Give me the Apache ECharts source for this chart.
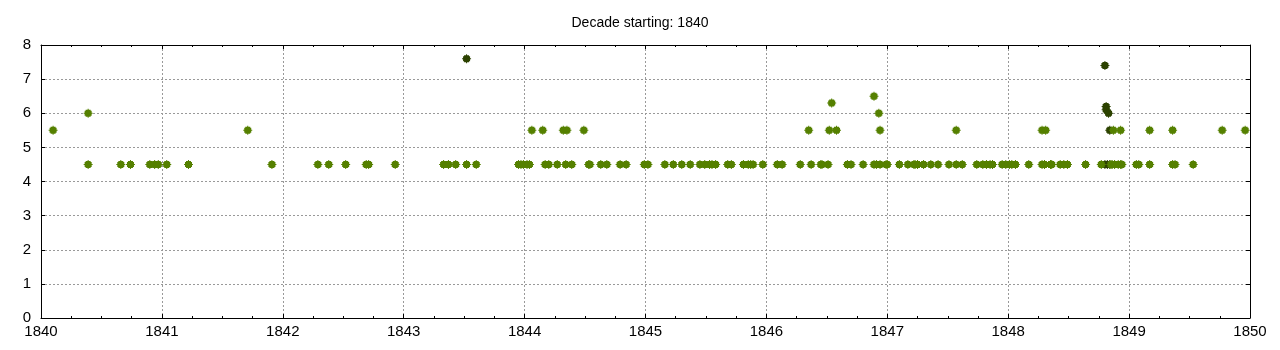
<!DOCTYPE html>
<html>
<head>
<meta charset="utf-8">
<script src="https://cdn.jsdelivr.net/npm/echarts@6/dist/echarts.min.js"></script>
<style>
html,body{margin:0;padding:0;background:#fff;}
#c{width:1280px;height:350px;}
</style>
</head>
<body>
<div id="c"></div>
<script>
const titleText = "Decade starting: 1840";
const xTicks = [1840, 1841, 1842, 1843, 1844, 1845, 1846, 1847, 1848, 1849, 1850];
const yTicks = [0, 1, 2, 3, 4, 5, 6, 7, 8];

// Green events at magnitude 4.5
const yearsMag45 = [
  1840.39, 1840.66, 1840.74, 1840.90, 1840.94, 1840.97, 1841.04, 1841.22, 1841.91,
  1842.29, 1842.38, 1842.52, 1842.69, 1842.71, 1842.93,
  1843.33, 1843.37, 1843.43, 1843.52, 1843.60, 1843.95, 1843.97, 1843.99,
  1844.02, 1844.04, 1844.17, 1844.20, 1844.27, 1844.34, 1844.39, 1844.53, 1844.54,
  1844.63, 1844.68, 1844.79, 1844.84, 1844.99,
  1845.02, 1845.16, 1845.23, 1845.30, 1845.37, 1845.45, 1845.49, 1845.53, 1845.55,
  1845.58, 1845.68, 1845.71, 1845.81, 1845.85, 1845.87, 1845.89, 1845.97,
  1846.09, 1846.13, 1846.28, 1846.37, 1846.45, 1846.46, 1846.51, 1846.67, 1846.70,
  1846.80, 1846.89, 1846.91, 1846.94, 1846.99,
  1847.00, 1847.10, 1847.17, 1847.22, 1847.23, 1847.25, 1847.30, 1847.36, 1847.42,
  1847.51, 1847.57, 1847.62, 1847.74, 1847.79, 1847.82, 1847.85, 1847.87, 1847.95, 1847.98,
  1848.01, 1848.03, 1848.06, 1848.17, 1848.28, 1848.30, 1848.35, 1848.36, 1848.43,
  1848.46, 1848.49, 1848.64, 1848.77, 1848.85, 1848.86, 1848.88, 1848.91, 1848.93, 1848.94,
  1849.06, 1849.08, 1849.17, 1849.36, 1849.38, 1849.53
];
// Green events at magnitude 5.5
const yearsMag55 = [
  1840.10, 1841.71, 1844.06, 1844.15, 1844.32, 1844.35, 1844.49,
  1846.35, 1846.52, 1846.58, 1846.94, 1847.57, 1848.28, 1848.31,
  1848.87, 1848.93, 1849.17, 1849.36, 1849.77, 1849.96
];
// Other green events
const otherGreenYears = [1840.39, 1846.93, 1846.54, 1846.89];
const otherGreenMags  = [6.0, 6.0, 6.3, 6.5];
// Dark events
const darkYears = [1843.52, 1848.80, 1848.81, 1848.81, 1848.83, 1848.84, 1848.80, 1848.82, 1848.84];
const darkMags  = [7.6, 7.4, 6.2, 6.1, 6.0, 5.5, 4.5, 4.5, 4.5];

const greenColor = '#558000';
const darkColor = '#2c4200';
const markPath = 'path://M4,0L5,0L5,1L7,1L7,2L8,2L8,4L9,4L9,5L8,5L8,7L7,7L7,8L5,8L5,9L4,9L4,8L2,8L2,7L1,7L1,5L0,5L0,4L1,4L1,2L2,2L2,1L4,1Z';

const greenData = [];
yearsMag45.forEach(y => greenData.push([y, 4.5]));
yearsMag55.forEach(y => greenData.push([y, 5.5]));
otherGreenYears.forEach((y, i) => greenData.push([y, otherGreenMags[i]]));
const darkData = darkYears.map((y, i) => [y, darkMags[i]]);

const font = 'Liberation Sans, Arial, sans-serif';
const gridLine = { show: true, lineStyle: { color: '#999999', width: 1, type: [2, 2] } };

const chart = echarts.init(document.getElementById('c'), null, { renderer: 'canvas' });
chart.setOption({
  animation: false,
  backgroundColor: '#fff',
  title: {
    text: titleText, left: 'center', top: 11,
    textStyle: { fontFamily: font, fontSize: 14, fontWeight: 'normal', color: '#000' }
  },
  grid: { left: 41, right: 30, top: 45, bottom: 32, containLabel: false },
  xAxis: [
    {
      type: 'value', min: xTicks[0], max: xTicks[xTicks.length - 1], interval: 1,
      axisLine: { show: true, onZero: false, lineStyle: { color: '#000', width: 1 } },
      axisTick: { show: true, inside: true, length: 4, lineStyle: { color: '#000' } },
      minorTick: { show: true, splitNumber: 4, length: 2, lineStyle: { color: '#000' } },
      axisLabel: { fontFamily: font, fontSize: 15, color: '#000', margin: 6, formatter: v => String(v) },
      splitLine: gridLine
    },
    {
      type: 'value', position: 'top', min: xTicks[0], max: xTicks[xTicks.length - 1], interval: 1,
      axisLine: { show: true, onZero: false, lineStyle: { color: '#000', width: 1 } },
      axisTick: { show: true, inside: true, length: 4, lineStyle: { color: '#000' } },
      minorTick: { show: true, splitNumber: 4, length: 2, lineStyle: { color: '#000' } },
      axisLabel: { show: false }, splitLine: { show: false }
    }
  ],
  yAxis: [
    {
      type: 'value', min: yTicks[0], max: yTicks[yTicks.length - 1], interval: 1,
      axisLine: { show: true, onZero: false, lineStyle: { color: '#000', width: 1 } },
      axisTick: { show: true, inside: true, length: 4, lineStyle: { color: '#000' } },
      axisLabel: { fontFamily: font, fontSize: 15, color: '#000', margin: 10 },
      splitLine: gridLine
    },
    {
      type: 'value', position: 'right', min: yTicks[0], max: yTicks[yTicks.length - 1], interval: 1,
      axisLine: { show: true, onZero: false, lineStyle: { color: '#000', width: 1 } },
      axisTick: { show: true, inside: true, length: 4, lineStyle: { color: '#000' } },
      axisLabel: { show: false }, splitLine: { show: false }
    }
  ],
  series: [
    {
      type: 'scatter', data: darkData, symbol: markPath, symbolSize: 9,
      itemStyle: { color: darkColor, opacity: 1 }, silent: true, z: 2
    },
    {
      type: 'scatter', data: greenData, symbol: markPath, symbolSize: 9,
      itemStyle: { color: greenColor, opacity: 1 }, silent: true, z: 3
    }
  ]
});
</script>
</body>
</html>
